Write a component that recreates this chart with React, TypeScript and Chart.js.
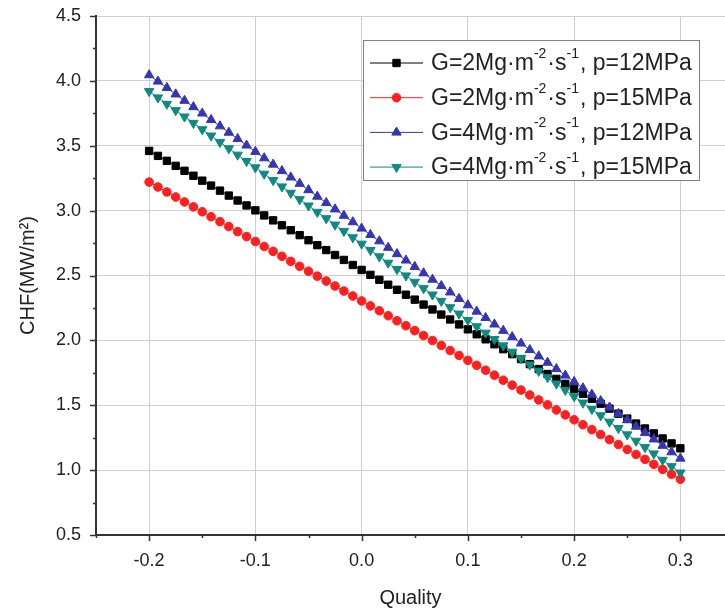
import React, { useEffect, useRef } from 'react';
import { Chart, registerables } from 'chart.js';
import { drawPoint } from 'chart.js/helpers';

Chart.register(...registerables);

// ---------- data ----------
const quality = [
  -0.2, -0.1917, -0.1833, -0.175, -0.1667, -0.1583, -0.15, -0.1417, -0.1333, -0.125,
  -0.1167, -0.1083, -0.1, -0.0917, -0.0833, -0.075, -0.0667, -0.0583, -0.05, -0.0417,
  -0.0333, -0.025, -0.0167, -0.0083, 0, 0.0083, 0.0167, 0.025, 0.0333, 0.0417,
  0.05, 0.0583, 0.0667, 0.075, 0.0833, 0.0917, 0.1, 0.1083, 0.1167, 0.125,
  0.1333, 0.1417, 0.15, 0.1583, 0.1667, 0.175, 0.1833, 0.1917, 0.2, 0.2083,
  0.2167, 0.225, 0.2333, 0.2417, 0.25, 0.2583, 0.2667, 0.275, 0.2833, 0.2917, 0.3,
];

const chfG2P12 = [
  3.460, 3.422, 3.384, 3.345, 3.307, 3.269, 3.231, 3.193, 3.154, 3.116,
  3.078, 3.040, 3.002, 2.963, 2.925, 2.887, 2.849, 2.811, 2.772, 2.734,
  2.696, 2.658, 2.620, 2.581, 2.543, 2.505, 2.467, 2.429, 2.390, 2.352,
  2.314, 2.276, 2.238, 2.199, 2.161, 2.123, 2.085, 2.047, 2.008, 1.970,
  1.932, 1.894, 1.856, 1.817, 1.779, 1.741, 1.703, 1.665, 1.626, 1.588,
  1.550, 1.512, 1.474, 1.435, 1.397, 1.359, 1.321, 1.283, 1.244, 1.206, 1.168,
];

const chfG2P15 = [
  3.220, 3.182, 3.144, 3.105, 3.067, 3.029, 2.991, 2.953, 2.915, 2.877,
  2.838, 2.800, 2.762, 2.724, 2.686, 2.648, 2.609, 2.571, 2.533, 2.495,
  2.457, 2.419, 2.380, 2.342, 2.304, 2.266, 2.228, 2.190, 2.151, 2.113,
  2.075, 2.037, 1.999, 1.961, 1.922, 1.884, 1.846, 1.808, 1.770, 1.732,
  1.693, 1.655, 1.617, 1.579, 1.541, 1.503, 1.464, 1.426, 1.388, 1.350,
  1.312, 1.274, 1.235, 1.197, 1.159, 1.121, 1.083, 1.045, 1.006, 0.968, 0.930,
];

const chfG4P12 = [
  4.045, 3.996, 3.947, 3.897, 3.848, 3.799, 3.750, 3.700, 3.651, 3.602,
  3.553, 3.503, 3.454, 3.405, 3.356, 3.306, 3.257, 3.208, 3.159, 3.109,
  3.060, 3.011, 2.962, 2.912, 2.863, 2.814, 2.765, 2.715, 2.666, 2.617,
  2.568, 2.518, 2.469, 2.420, 2.371, 2.321, 2.272, 2.223, 2.174, 2.124,
  2.075, 2.026, 1.977, 1.927, 1.878, 1.829, 1.780, 1.730, 1.681, 1.632,
  1.583, 1.533, 1.484, 1.435, 1.386, 1.336, 1.287, 1.238, 1.189, 1.139, 1.090,
];

const chfG4P15 = [
  3.920, 3.871, 3.822, 3.773, 3.724, 3.675, 3.626, 3.577, 3.528, 3.479,
  3.430, 3.381, 3.332, 3.283, 3.234, 3.185, 3.136, 3.087, 3.038, 2.989,
  2.940, 2.891, 2.842, 2.793, 2.744, 2.695, 2.646, 2.597, 2.548, 2.499,
  2.450, 2.401, 2.352, 2.303, 2.254, 2.205, 2.156, 2.107, 2.058, 2.009,
  1.960, 1.911, 1.862, 1.813, 1.764, 1.715, 1.666, 1.617, 1.568, 1.519,
  1.470, 1.421, 1.372, 1.323, 1.274, 1.225, 1.176, 1.127, 1.078, 1.029, 0.980,
];

const legendG = ['2', '2', '4', '4'];
const legendP = ['12', '15', '12', '15'];
const seriesLabels = [
  'G=2Mg·m⁻²·s⁻¹, p=12MPa',
  'G=2Mg·m⁻²·s⁻¹, p=15MPa',
  'G=4Mg·m⁻²·s⁻¹, p=12MPa',
  'G=4Mg·m⁻²·s⁻¹, p=15MPa',
];

const xMajorTicks = [-0.2, -0.1, 0, 0.1, 0.2, 0.3];
const xMinorTicks = [-0.25, -0.15, -0.05, 0.05, 0.15, 0.25];
const yMajorTicks = [0.5, 1.0, 1.5, 2.0, 2.5, 3.0, 3.5, 4.0, 4.5];
const yMinorTicks = [0.75, 1.25, 1.75, 2.25, 2.75, 3.25, 3.75, 4.25];

const xTitle = 'Quality';
const yTitle = 'CHF(MW/m²)';

// ---------- styles ----------
const FONT = '"Liberation Sans", Arial, Helvetica, sans-serif';
const TEXT = '#222222';
const AXIS = '#333333';
const GRID = '#cfcfcf';
const COLORS = ['#000000', '#ff1f1f', '#3535b5', '#0e8a80'];
const STYLES = ['rect', 'circle', 'triangle', 'triangle'];
const ROTATIONS = [0, 0, 0, 180];
const RADII = [5.2, 4.3, 5.4, 5.4];

const allSeries = [chfG2P12, chfG2P15, chfG4P12, chfG4P15];

const isMajor = (v: number, list: number[]) => list.some((m) => Math.abs(m - v) < 1e-6);

const tickPlugin = {
  id: 'tickMarks',
  afterDraw(chart: any) {
    const { ctx, chartArea, scales } = chart;
    const xs = scales.x;
    const ys = scales.y;
    ctx.save();
    ctx.strokeStyle = AXIS;
    ctx.lineWidth = 1.5;
    ctx.beginPath();
    const allX = [...xMajorTicks, ...xMinorTicks];
    allX.forEach((v) => {
      const px = Math.round(xs.getPixelForValue(v)) + 0.5;
      const len = isMajor(v, xMajorTicks) ? 6 : 3;
      ctx.moveTo(px, chartArea.bottom);
      ctx.lineTo(px, chartArea.bottom + len);
    });
    const allY = [...yMajorTicks, ...yMinorTicks];
    allY.forEach((v) => {
      const py = Math.round(ys.getPixelForValue(v)) + 0.5;
      const len = isMajor(v, yMajorTicks) ? 6 : 3;
      ctx.moveTo(chartArea.left, py);
      ctx.lineTo(chartArea.left - len, py);
    });
    ctx.stroke();
    ctx.restore();
  },
};

const legendPlugin = {
  id: 'customLegend',
  afterDraw(chart: any) {
    const { ctx } = chart;
    const x0 = 363;
    const y0 = 40;
    const w = 336;
    const h = 140;
    ctx.save();
    ctx.fillStyle = '#ffffff';
    ctx.fillRect(x0, y0, w, h);
    ctx.strokeStyle = '#808080';
    ctx.lineWidth = 1;
    ctx.strokeRect(x0 + 0.5, y0 + 0.5, w, h);

    const mainFont = `23px ${FONT}`;
    const supFont = `14px ${FONT}`;
    ctx.textBaseline = 'middle';
    ctx.textAlign = 'left';
    for (let i = 0; i < 4; i++) {
      const cy = 63 + i * 34.7;
      ctx.strokeStyle = COLORS[i];
      ctx.lineWidth = 1;
      ctx.beginPath();
      ctx.moveTo(370, cy);
      ctx.lineTo(423, cy);
      ctx.stroke();
      ctx.fillStyle = COLORS[i];
      drawPoint(
        ctx,
        { pointStyle: STYLES[i], rotation: ROTATIONS[i], radius: RADII[i], borderWidth: 1 } as any,
        396.5,
        cy
      );
      const pieces: [string, boolean][] = [
        [`G=${legendG[i]}Mg·m`, false],
        ['-2', true],
        ['·s', false],
        ['-1', true],
        [`, p=${legendP[i]}MPa`, false],
      ];
      let tx = 431;
      ctx.fillStyle = TEXT;
      pieces.forEach(([t, sup]) => {
        ctx.font = sup ? supFont : mainFont;
        ctx.fillText(t, tx, sup ? cy - 9 : cy + 1);
        tx += ctx.measureText(t).width + (sup ? 1 : 0);
      });
    }
    ctx.restore();
  },
};

export default function App() {
  const canvasRef = useRef<HTMLCanvasElement | null>(null);

  useEffect(() => {
    if (!canvasRef.current) return;
    const datasets = allSeries.map((vals, i) => ({
      label: seriesLabels[i],
      data: vals.map((v, k) => ({ x: quality[k], y: v })),
      borderColor: COLORS[i],
      backgroundColor: COLORS[i],
      borderWidth: 1,
      showLine: true,
      pointStyle: STYLES[i],
      pointRotation: ROTATIONS[i],
      pointRadius: RADII[i],
      pointBorderWidth: 1,
      pointBorderColor: COLORS[i],
      pointBackgroundColor: COLORS[i],
      order: 3 - i,
    }));

    const chart = new Chart(canvasRef.current, {
      type: 'scatter',
      data: { datasets },
      options: {
        animation: false,
        responsive: false,
        devicePixelRatio: 1,
        layout: { autoPadding: false, padding: { top: 16, right: 0, left: 0, bottom: 0 } },
        plugins: {
          legend: { display: false },
          tooltip: { enabled: false },
        },
        scales: {
          x: {
            type: 'linear',
            min: -0.25,
            max: 0.342,
            afterBuildTicks: (scale: any) => {
              scale.ticks = [...xMinorTicks, ...xMajorTicks]
                .sort((a, b) => a - b)
                .map((v) => ({ value: v }));
            },
            afterFit: (scale: any) => {
              scale.height = 76;
              scale.paddingLeft = 0;
              scale.paddingRight = 0;
            },
            grid: {
              drawTicks: true,
              tickLength: 12,
              tickColor: 'rgba(0,0,0,0)',
              color: (c: any) => (c.tick && isMajor(c.tick.value, xMajorTicks) ? GRID : 'rgba(0,0,0,0)'),
              lineWidth: 1,
            },
            border: { display: true, color: AXIS, width: 2 },
            ticks: {
              autoSkip: false,
              maxRotation: 0,
              padding: 3,
              color: TEXT,
              font: { family: FONT, size: 18 },
              callback: (v: any) => (isMajor(Number(v), xMajorTicks) ? Number(v).toFixed(1) : ''),
            },
            title: {
              display: true,
              text: xTitle,
              color: TEXT,
              font: { family: FONT, size: 20 },
              padding: { top: 0, bottom: 1 },
            },
          },
          y: {
            type: 'linear',
            min: 0.5,
            max: 4.5,
            afterBuildTicks: (scale: any) => {
              scale.ticks = [...yMinorTicks, ...yMajorTicks]
                .sort((a, b) => a - b)
                .map((v) => ({ value: v }));
            },
            afterFit: (scale: any) => {
              scale.width = 96;
              scale.paddingTop = 0;
              scale.paddingBottom = 0;
            },
            grid: {
              drawTicks: true,
              tickLength: 12,
              tickColor: 'rgba(0,0,0,0)',
              color: (c: any) => (c.tick && isMajor(c.tick.value, yMajorTicks) ? GRID : 'rgba(0,0,0,0)'),
              lineWidth: 1,
            },
            border: { display: true, color: AXIS, width: 2 },
            ticks: {
              autoSkip: false,
              padding: 3,
              color: TEXT,
              font: { family: FONT, size: 18 },
              callback: (v: any) => (isMajor(Number(v), yMajorTicks) ? Number(v).toFixed(1) : ''),
            },
            title: {
              display: true,
              text: yTitle,
              color: TEXT,
              font: { family: FONT, size: 20 },
              padding: { top: 16, bottom: 0 },
            },
          },
        },
      },
      plugins: [tickPlugin, legendPlugin],
    } as any);

    return () => chart.destroy();
  }, []);

  return (
    <div style={{ position: 'absolute', left: 0, top: 0, width: 725, height: 611, background: '#fff' }}>
      <canvas ref={canvasRef} width={725} height={611} style={{ display: 'block', width: 725, height: 611 }} />
    </div>
  );
}
